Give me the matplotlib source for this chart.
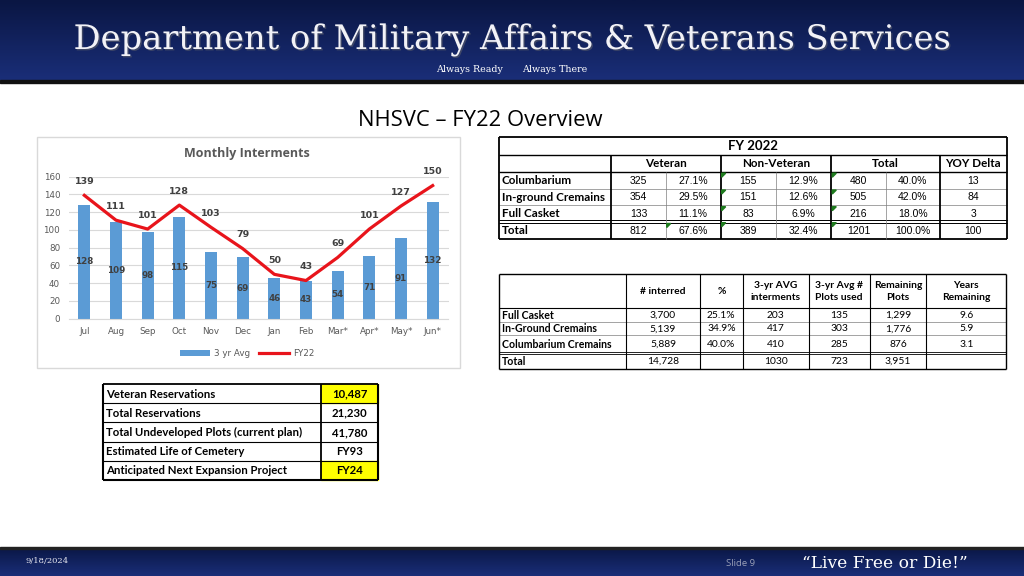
import numpy as np
import matplotlib
matplotlib.use("Agg")
import matplotlib.pyplot as plt
from matplotlib.patches import Rectangle, Polygon
import matplotlib.patheffects as pe

# ---- chart data ----
months = ['Jul', 'Aug', 'Sep', 'Oct', 'Nov', 'Dec', 'Jan', 'Feb', 'Mar*', 'Apr*', 'May*', 'Jun*']
avg3yr = [128, 109, 98, 115, 75, 69, 46, 43, 54, 71, 91, 132]
fy22 = [139, 111, 101, 128, 103, 79, 50, 43, 69, 101, 127, 150]

# ---- FY 2022 table ----
fy_rows = ['Columbarium', 'In-ground Cremains', 'Full Casket', 'Total']
fy_groups = ['Veteran', 'Non-Veteran', 'Total', 'YOY Delta']
fy_vet = [325, 354, 133, 812]
fy_vet_pct = ['27.1%', '29.5%', '11.1%', '67.6%']
fy_nonvet = [155, 151, 83, 389]
fy_nonvet_pct = ['12.9%', '12.6%', '6.9%', '32.4%']
fy_tot = [480, 505, 216, 1201]
fy_tot_pct = ['40.0%', '42.0%', '18.0%', '100.0%']
fy_yoy = [13, 84, 3, 100]

# ---- capacity table ----
cap_rows = ['Full Casket', 'In-Ground Cremains', 'Columbarium Cremains', 'Total']
cap_cols = ['# interred', '%', '3-yr AVG\ninterments', '3-yr Avg #\nPlots used',
            'Remaining\nPlots', 'Years\nRemaining']
cap_interred = ['3,700', '5,139', '5,889', '14,728']
cap_pct = ['25.1%', '34.9%', '40.0%', '']
cap_avg = ['203', '417', '410', '1030']
cap_plots = ['135', '303', '285', '723']
cap_remain = ['1,299', '1,776', '876', '3,951']
cap_years = ['9.6', '5.9', '3.1', '']

# ---- reservations table ----
res_labels = ['Veteran Reservations', 'Total Reservations',
              'Total Undeveloped Plots (current plan)', 'Estimated Life of Cemetery',
              'Anticipated Next Expansion Project']
res_values = ['10,487', '21,230', '41,780', 'FY93', 'FY24']
res_highlight = [True, False, False, False, True]

W, H = 1024, 576
fig = plt.figure(figsize=(W / 100, H / 100), dpi=100)
bg = fig.add_axes([0, 0, 1, 1])
bg.set_xlim(0, W)
bg.set_ylim(H, 0)
bg.axis('off')

# header gradient
grad = np.linspace(0, 1, 64).reshape(-1, 1)
bg.imshow(grad, extent=(0, W, 80, 0), aspect='auto',
          cmap=matplotlib.colors.LinearSegmentedColormap.from_list('h', ['#0a1643', '#1a2e78']),
          zorder=0)
bg.add_patch(Rectangle((0, 80), W, 2.5, color='#111111', zorder=1))
bg.text(512, 40, 'Department of Military Affairs & Veterans Services', family='DejaVu Serif',
        fontsize=24.3, color='#f2f2f7', ha='center', va='center', zorder=2,
        path_effects=[pe.withSimplePatchShadow(offset=(1.0, -1.0), shadow_rgbFace='#4a5068', alpha=0.8)])
bg.text(469, 70, 'Always Ready', family='DejaVu Serif', fontsize=6.8, color='white',
        ha='center', va='center', zorder=2)
bg.text(555, 70, 'Always There', family='DejaVu Serif', fontsize=6.8, color='white',
        ha='center', va='center', zorder=2)

# footer
bg.add_patch(Rectangle((0, 546.5), W, 2.5, color='#222222', zorder=1))
bg.imshow(grad, extent=(0, W, 576, 549), aspect='auto',
          cmap=matplotlib.colors.LinearSegmentedColormap.from_list('f', ['#0b1848', '#1a2e78']),
          zorder=0)
bg.text(25, 561, '9/18/2024', family='DejaVu Serif', fontsize=6, color='#e8e8f0',
        ha='left', va='center')
bg.text(740, 563, 'Slide 9', family='Open Sans', fontsize=6.8, color='#9aa0b8',
        ha='center', va='center')
bg.text(885, 563, '\u201cLive Free or Die!\u201d', family='DejaVu Serif', fontsize=12.3,
        color='white', ha='center', va='center')

bg.text(480, 120, 'NHSVC \u2013 FY22 Overview', family='Open Sans', fontsize=15.8,
        color='black', ha='center', va='center')

# ---- chart ----
bg.add_patch(Rectangle((36.5, 136.5), 423, 231.5, fill=False, ec='#d9d9d9', lw=1))
bg.text(247, 154, 'Monthly Interments', family='Open Sans', fontsize=9, fontweight='bold',
        color='#595959', ha='center', va='center')

def fax(x0, y0, x1, y1):
    return [x0 / W, 1 - y1 / H, (x1 - x0) / W, (y1 - y0) / H]

ax = fig.add_axes(fax(68.5, 176.7, 448.5, 318.7))
x = np.arange(len(months))
bars = ax.bar(x, avg3yr, width=0.38, color='#5b9bd5', label='3 yr Avg', zorder=2)
line, = ax.plot(x, fy22, color='#e8141b', lw=2.3, label='FY22', zorder=3)
for xi, v in zip(x, avg3yr):
    ax.text(xi, v / 2, str(v), ha='center', va='center', fontsize=6.3,
            fontweight='bold', color='#404040', zorder=4)
for xi, v in zip(x, fy22):
    ax.annotate(str(v), (xi, v), xytext=(0, 10), textcoords='offset points',
                ha='center', va='center', fontsize=6.8, fontweight='bold', color='#404040')
ax.set_xlim(-0.5, len(months) - 0.5)
ax.set_ylim(0, 160)
ax.set_yticks(np.arange(0, 161, 20))
ax.set_xticks(x)
ax.set_xticklabels(months)
ax.tick_params(length=0, labelsize=6.3, labelcolor='#595959', pad=6)
ax.grid(axis='y', color='#d9d9d9', lw=0.8, zorder=0)
for s in ['top', 'right', 'left']:
    ax.spines[s].set_visible(False)
ax.spines['bottom'].set_color('#d9d9d9')
ax.set_facecolor('none')
ax.legend(handles=[bars, line], loc='center', bbox_to_anchor=(0.47, -0.245), ncol=2,
          frameon=False, fontsize=6.3, labelcolor='#595959', handlelength=3.5,
          columnspacing=1.0, handletextpad=0.4)

# ---- helpers ----
def hline(x0, x1, y, lw=0.6, c='#7f7f7f'):
    bg.plot([x0, x1], [y, y], color=c, lw=lw, solid_capstyle='butt', zorder=5)

def vline(x, y0, y1, lw=0.6, c='#7f7f7f'):
    bg.plot([x, x], [y0, y1], color=c, lw=lw, solid_capstyle='butt', zorder=5)

def tri(x, y):
    bg.add_patch(Polygon([(x, y), (x + 4, y), (x, y + 4)], color='#1e7b1e', zorder=6))

# ---- FY 2022 table ----
L, R = 499, 1006.5
vx = [611.3, 665.7, 720.7, 775.7, 831.3, 885.7, 939.7]
top, hb1, hb2 = 136.5, 155.2, 171.7
rys = [171.7, 188.5, 205.2, 221.2, 239]
hline(L, R, top, 1.3, 'black')
hline(L, R, hb1, 1.0, 'black')
hline(L, R, hb2, 1.0, 'black')
hline(L, R, rys[-1], 1.3, 'black')
for yy in rys[1:3]:
    hline(L, R, yy, 0.5)
hline(L, R, rys[3] - 1.3, 0.7, 'black')
hline(L, R, rys[3] + 1.3, 0.7, 'black')
vline(L, top, rys[-1], 1.3, 'black')
vline(R, top, rys[-1], 1.3, 'black')
for i, xx in enumerate(vx):
    if i in (0, 2, 4, 6):
        vline(xx, hb1, rys[-1], 1.3, 'black')
    else:
        vline(xx, hb2, rys[-1], 0.5)
bg.text((L + R) / 2, (top + hb1) / 2, 'FY 2022', family='Lato', fontweight='bold',
        fontsize=9.5, ha='center', va='center')
gx = [(vx[0] + vx[2]) / 2, (vx[2] + vx[4]) / 2, (vx[4] + vx[6]) / 2, (vx[6] + R) / 2]
for g, gxx in zip(fy_groups, gx):
    bg.text(gxx, (hb1 + hb2) / 2 + 0.5, g, family='Lato', fontweight='bold', fontsize=8.4,
            ha='center', va='center')
cols = [fy_vet, fy_vet_pct, fy_nonvet, fy_nonvet_pct, fy_tot, fy_tot_pct, fy_yoy]
edges = vx + [R]
for r, lab in enumerate(fy_rows):
    yc = (rys[r] + rys[r + 1]) / 2 + 0.5
    bg.text(L + 3, yc, lab, family='Lato', fontweight='bold', fontsize=8.4,
            ha='left', va='center')
    for c, col in enumerate(cols):
        bg.text((edges[c] + edges[c + 1]) / 2, yc, str(col[r]), family='Liberation Sans',
                fontsize=7.5, ha='center', va='center')
    tri(vx[2] + 1, rys[r] + 1.5)
    tri(vx[4] + 1, rys[r] + 1.5)
tri(vx[1] + 1, rys[3] + 2.3)

# ---- capacity table ----
L2, R2 = 499, 1006.3
vx2 = [626.3, 699.7, 743, 808.7, 869.7, 926.3]
t2, hb = 274, 307.7
rys2 = [307.7, 321.5, 335.3, 352.8, 369]
hline(L2, R2, t2, 1.0, 'black')
hline(L2, R2, hb, 0.8, 'black')
for yy in rys2[1:3]:
    hline(L2, R2, yy, 0.5)
hline(L2, R2, rys2[3] - 1.3, 0.6, 'black')
hline(L2, R2, rys2[3] + 1.3, 0.6, 'black')
hline(L2, R2, rys2[-1], 1.0, 'black')
vline(L2, t2, rys2[-1], 1.0, 'black')
vline(R2, t2, rys2[-1], 1.0, 'black')
for xx in vx2:
    vline(xx, t2, rys2[-1], 0.8, 'black')
edges2 = [L2] + vx2 + [R2]
for c, name in enumerate(cap_cols):
    bg.text((edges2[c + 1] + edges2[c + 2]) / 2, (t2 + hb) / 2 + 0.5, name, family='Lato',
            fontweight='bold', fontsize=7.4, ha='center', va='center', linespacing=1.45)
cols2 = [cap_interred, cap_pct, cap_avg, cap_plots, cap_remain, cap_years]
for r, lab in enumerate(cap_rows):
    yc = (rys2[r] + rys2[r + 1]) / 2 + 0.5
    bg.text(L2 + 3, yc, lab, family='Lato', fontweight='bold', fontsize=7.6,
            ha='left', va='center')
    for c, col in enumerate(cols2):
        bg.text((edges2[c + 1] + edges2[c + 2]) / 2, yc, col[r], family='Lato',
                fontsize=7.4, ha='center', va='center')

# ---- reservations table ----
L3, M3, R3 = 102.7, 320.7, 378.3
t3, b3 = 384, 480
rh = (b3 - t3) / len(res_labels)
for r, (lab, val, hl) in enumerate(zip(res_labels, res_values, res_highlight)):
    y0 = t3 + r * rh
    if hl:
        bg.add_patch(Rectangle((M3, y0), R3 - M3, rh, color='#ffff00', zorder=4))
    bg.text(L3 + 3, y0 + rh / 2 + 0.5, lab, family='Lato', fontweight='bold', fontsize=8.2,
            ha='left', va='center', zorder=6)
    bg.text((M3 + R3) / 2, y0 + rh / 2 + 0.5, val, family='Lato', fontweight='bold',
            fontsize=8.2, ha='center', va='center', zorder=6)
    hline(L3, R3, y0, 1.3 if r == 0 else 0.8, 'black')
hline(L3, R3, b3, 1.5, 'black')
vline(L3, t3, b3, 1.5, 'black')
vline(M3, t3, b3, 1.3, 'black')
vline(R3, t3, b3, 1.5, 'black')

fig.savefig('out.png', dpi=100)
